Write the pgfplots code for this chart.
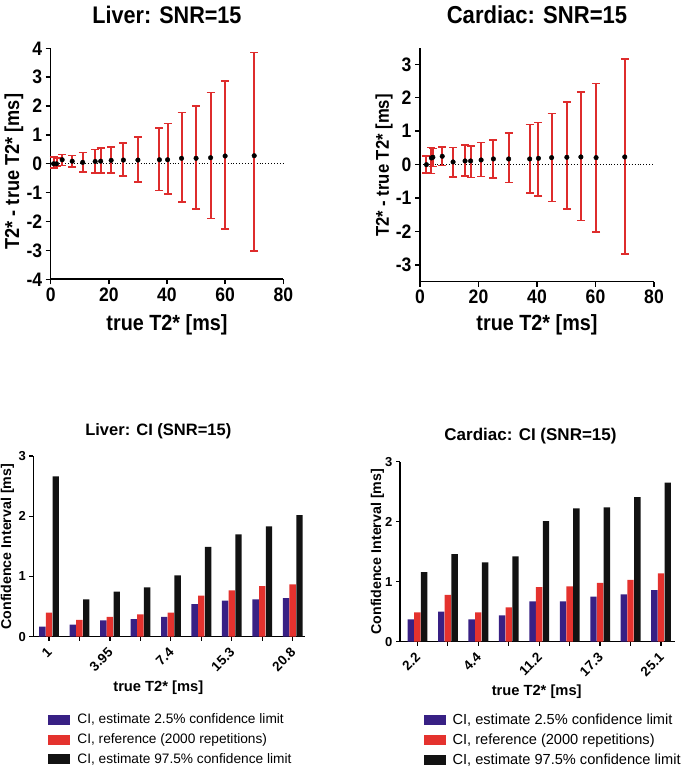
\documentclass[border=0pt]{standalone}
\usepackage{pgfplots}
\pgfplotsset{compat=1.18}
\usepackage{pgfplotstable}
\usepackage{fontspec}
\setmainfont{Liberation Sans}
\newfontfamily\topfont{Liberation Sans}[FakeStretch=0.9]
\definecolor{cired}{RGB}{228,50,46}
\definecolor{ciblue}{RGB}{56,32,132}
\definecolor{ciblack}{RGB}{18,18,18}
\definecolor{ebred}{RGB}{222,44,44}

\pgfplotstableread{
x y ep em
1 0.00 0.23 0.14
2 0.00 0.20 0.10
3.95 0.14 0.18 0.20
7.4 0.09 0.20 0.21
11 0.05 0.34 0.33
15.3 0.08 0.41 0.40
17.2 0.09 0.45 0.41
20.8 0.12 0.47 0.44
25 0.13 0.59 0.55
30 0.13 0.79 0.77
37.4 0.14 1.10 1.07
40.2 0.14 1.25 1.19
45 0.19 1.59 1.51
50 0.19 1.81 1.75
55 0.21 2.26 2.10
60 0.27 2.59 2.53
70 0.28 3.57 3.29
}\liverdata

\pgfplotstableread{
x y ep em
2.2 0.00 0.25 0.25
3.9 0.20 0.31 0.47
4.4 0.22 0.26 0.27
7.6 0.25 0.28 0.28
11.3 0.08 0.43 0.45
15.4 0.11 0.47 0.45
17.3 0.11 0.45 0.50
20.9 0.14 0.52 0.49
25.1 0.17 0.57 0.57
30.3 0.17 0.78 0.70
37.5 0.17 1.03 1.01
40.5 0.19 1.07 1.13
45 0.21 1.32 1.31
50.2 0.22 1.66 1.54
55 0.23 1.95 1.90
60.2 0.21 2.22 2.23
70 0.23 2.92 2.90
}\cardiacdata

\pgfplotsset{
  topstyle/.style={scale only axis, anchor=south west, xmin=0, xmax=80,
    axis lines*=left, axis line style={line width=1.6pt, black},
    tick style={line width=1.4pt, black}, tick align=outside, major tick length=5pt,
    xtick={0,20,...,80}, /pgf/number format/assume math mode=true,
    tick label style={font=\topfont\bfseries\fontsize{19.5}{20}\selectfont},
    clip=false},
  ebplot/.style={only marks, mark=*, mark size=2.3pt, black,
    error bars/.cd, y dir=both, y explicit,
    error bar style={draw=ebred, color=ebred, line width=2pt},
    error mark=-,
    error mark options={rotate=90, draw=ebred, color=ebred, line width=1.6pt, mark size=4pt}},
  botstyle/.style={scale only axis, anchor=south west, ymin=0, ymax=3, ytick={0,1,2,3},
    xtick={1,3,5,7,9}, extra x ticks={2,4,6,8}, extra x tick labels={},
    axis lines*=left, axis line style={line width=1.4pt, black},
    tick style={line width=1.2pt, black}, tick align=outside, major tick length=4pt,
    /pgf/number format/assume math mode=true,
    yticklabel style={font=\bfseries\fontsize{13}{14}\selectfont},
    xticklabel style={font=\bfseries\fontsize{13.5}{14}\selectfont, xshift=3pt, yshift=-7pt, rotate=45, anchor=east},
    xlabel style={font=\bfseries\fontsize{14.7}{16}\selectfont, anchor=center},
    ylabel style={font=\bfseries\fontsize{14.2}{16}\selectfont, anchor=center, rotate=0},
    legend cell align=left,
    clip=false},
  cibar/.style={ybar, bar width=6.4pt, draw=none, fill=#1,
    legend image code/.code={\fill[##1] (0pt,-5pt) rectangle (22pt,5pt);}},
}

\begin{document}
\begin{tikzpicture}[x=1pt,y=1pt]
\useasboundingbox (0,0) rectangle (685,773);

% ---------- Liver: SNR=15 ----------
\begin{axis}[topstyle, at={(50.7pt,493.7pt)}, width=232.6pt, height=231pt,
  ymin=-4, ymax=4, ytick={-4,-3,...,4},
  xlabel={true T2* [ms]},
  xlabel style={at={(axis description cs:0.5,-0.198)}, anchor=center, font=\topfont\bfseries\fontsize{22}{24}\selectfont},
  ylabel={T2* - true T2* [ms]},
  ylabel style={at={(axis description cs:-0.158,0.466)}, anchor=center, font=\topfont\bfseries\fontsize{20.2}{22}\selectfont}]
\addplot[black, dotted, line width=0.9pt] coordinates {(0,0) (80,0)};
\addplot[ebplot] table[x=x, y=y, y error plus=ep, y error minus=em] {\liverdata};
\end{axis}
\node[font=\topfont\bfseries\fontsize{24}{26}\selectfont, anchor=base] at (167,749) {Liver: SNR=15};

% ---------- Cardiac: SNR=15 ----------
\begin{axis}[topstyle, at={(420pt,491.3pt)}, width=234pt, height=234.1pt,
  ymin=-3.5, ymax=3.5, ytick={-3,-2,...,3},
  xlabel={true T2* [ms]},
  xlabel style={at={(axis description cs:0.5,-0.185)}, anchor=center, font=\topfont\bfseries\fontsize{22}{24}\selectfont},
  ylabel={T2* - true T2* [ms]},
  ylabel style={at={(axis description cs:-0.154,0.496)}, anchor=center, font=\topfont\bfseries\fontsize{18.5}{20}\selectfont}]
\addplot[black, dotted, line width=0.9pt] coordinates {(0,0) (80,0)};
\addplot[ebplot] table[x=x, y=y, y error plus=ep, y error minus=em] {\cardiacdata};
\end{axis}
\node[font=\topfont\bfseries\fontsize{24.5}{26}\selectfont, anchor=base] at (537,749) {Cardiac: SNR=15};

% ---------- Liver: CI ----------
\begin{axis}[botstyle, at={(33.3pt,136.3pt)}, width=271.7pt, height=180.7pt,
  xmin=0.485, xmax=9.405,
  xticklabels={1,3.95,7.4,15.3,20.8},
  xlabel={true T2* [ms]}, xlabel style={at={(axis description cs:0.46,-0.284)}},
  ylabel={Confidence Interval [ms]}, ylabel style={at={(axis description cs:-0.095,0.498)}},
  legend style={at={(axis description cs:0.055,-0.415)}, anchor=north west, draw=none, fill=none,
    font=\fontsize{13.7}{16}\selectfont, row sep=4.5pt, inner sep=0pt,
    /tikz/every odd column/.append style={column sep=5pt}}]
\addplot[cibar=ciblue, bar shift=-6.6pt] coordinates {(1,0.166) (2,0.20) (3,0.27) (4,0.29) (5,0.33) (6,0.54) (7,0.60) (8,0.62) (9,0.64)};
\addlegendentry{CI, estimate 2.5\% confidence limit}
\addplot[cibar=cired, bar shift=0pt] coordinates {(1,0.40) (2,0.28) (3,0.33) (4,0.37) (5,0.40) (6,0.68) (7,0.77) (8,0.84) (9,0.87)};
\addlegendentry{CI, reference (2000 repetitions)}
\addplot[cibar=ciblack, bar shift=6.8pt] coordinates {(1,2.66) (2,0.62) (3,0.75) (4,0.82) (5,1.02) (6,1.49) (7,1.70) (8,1.83) (9,2.02)};
\addlegendentry{CI, estimate 97.5\% confidence limit}
\end{axis}
\node[font=\bfseries\fontsize{16.5}{18}\selectfont] at (158.3,342) {Liver: CI (SNR=15)};

% ---------- Cardiac: CI ----------
\begin{axis}[botstyle, at={(400pt,131.3pt)}, width=275pt, height=180pt,
  xmin=0.43, xmax=9.46,
  xticklabels={2.2,4.4,11.2,17.3,25.1},
  xlabel={true T2* [ms]}, xlabel style={at={(axis description cs:0.497,-0.277)}},
  ylabel={Confidence Interval [ms]}, ylabel style={at={(axis description cs:-0.082,0.5)}},
  legend style={at={(axis description cs:0.085,-0.39)}, anchor=north west, draw=none, fill=none,
    font=\fontsize{14.6}{16}\selectfont, row sep=3.8pt, inner sep=0pt,
    /tikz/every odd column/.append style={column sep=5pt}}]
\addplot[cibar=ciblue, bar shift=-6.6pt] coordinates {(1,0.37) (2,0.50) (3,0.37) (4,0.44) (5,0.67) (6,0.67) (7,0.75) (8,0.79) (9,0.86)};
\addlegendentry{CI, estimate 2.5\% confidence limit}
\addplot[cibar=cired, bar shift=0pt] coordinates {(1,0.49) (2,0.78) (3,0.49) (4,0.57) (5,0.91) (6,0.92) (7,0.98) (8,1.03) (9,1.14)};
\addlegendentry{CI, reference (2000 repetitions)}
\addplot[cibar=ciblack, bar shift=6.8pt] coordinates {(1,1.16) (2,1.46) (3,1.32) (4,1.42) (5,2.01) (6,2.22) (7,2.24) (8,2.41) (9,2.65)};
\addlegendentry{CI, estimate 97.5\% confidence limit}
\end{axis}
\node[font=\bfseries\fontsize{17}{18}\selectfont] at (530.5,337) {Cardiac: CI (SNR=15)};
\end{tikzpicture}
\end{document}
